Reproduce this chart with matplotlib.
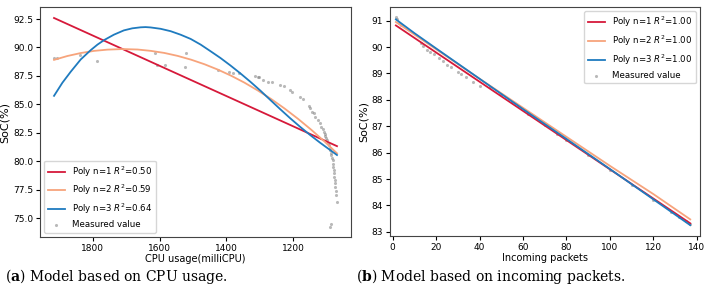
import matplotlib
matplotlib.use("Agg")
import matplotlib.pyplot as plt

# --- (a) CPU usage: measured points ---
cpu_x = [1916, 1907, 1839, 1788, 1615, 1609, 1585, 1525, 1522, 1425, 1391, 1381,
         1363, 1313, 1306, 1303, 1289, 1274, 1264, 1241, 1229, 1211, 1204, 1181,
         1172, 1154, 1149, 1144, 1139, 1134, 1126, 1121, 1116, 1112, 1109, 1106,
         1104, 1101, 1099, 1096, 1094, 1091, 1089, 1087, 1086, 1084, 1082, 1081,
         1080, 1079, 1078, 1077, 1076, 1075, 1074, 1073, 1072, 1070, 1089, 1086]
cpu_soc = [89.04, 89.10, 89.33, 88.80, 89.48, 88.50, 88.50, 88.30, 89.48, 88.00, 87.86, 87.80,
           87.72, 87.49, 87.37, 87.37, 87.14, 86.99, 86.93, 86.70, 86.60, 86.26, 86.10, 85.67,
           85.44, 84.85, 84.65, 84.35, 84.20, 83.90, 83.62, 83.33, 83.03, 82.80, 82.59, 82.40,
           82.20, 82.03, 81.86, 81.64, 81.42, 81.20, 80.98, 80.76, 80.54, 80.32, 80.10, 79.80,
           79.50, 79.20, 78.93, 78.64, 78.34, 78.05, 77.75, 77.38, 77.02, 76.43, 74.23, 74.47]

# fitted curves
fit1_x = [1916, 1069]
fit1_y = [92.59, 81.33]
fit2_x = [1916, 1876, 1836, 1796, 1756, 1710, 1666, 1626, 1586, 1546, 1506, 1466, 1426,
          1386, 1346, 1306, 1266, 1226, 1186, 1146, 1106, 1069]
fit2_y = [88.91, 89.25, 89.51, 89.70, 89.81, 89.86, 89.82, 89.70, 89.52, 89.26, 88.93, 88.53, 88.06,
          87.52, 86.91, 86.22, 85.47, 84.64, 83.74, 82.77, 81.73, 80.70]
fit3_x = [1916, 1891, 1866, 1836, 1806, 1786, 1766, 1737, 1707, 1682, 1657, 1642, 1627, 1597,
          1567, 1537, 1507, 1477, 1448, 1418, 1388, 1358, 1328, 1298, 1269, 1239, 1209, 1179,
          1149, 1119, 1089, 1069]
fit3_y = [85.75, 86.90, 87.87, 88.95, 89.77, 90.25, 90.65, 91.12, 91.50, 91.68, 91.77, 91.79, 91.76, 91.64,
          91.43, 91.12, 90.75, 90.25, 89.68, 89.08, 88.42, 87.72, 86.98, 86.20, 85.40, 84.58, 83.78, 83.02,
          82.30, 81.62, 80.98, 80.55]
r2_cpu = ["0.50", "0.59", "0.64"]

# --- (b) incoming packets ---
pkt_x = [1.5, 2.2, 3.0, 4.0, 13, 14, 16, 17, 19, 21.5, 23, 25, 27, 30, 31.5, 34, 37, 40,
         45, 50, 55, 62.5, 70, 75.5, 80, 90, 100, 110, 120, 128, 132, 135, 137]
pkt_soc = [91.13, 91.05, 90.92, 90.84, 90.15, 90.05, 89.90, 89.83, 89.74, 89.58, 89.47, 89.33,
           89.23, 89.07, 88.98, 88.85, 88.67, 88.52, 88.50, 88.22, 87.93, 87.45, 87.05, 86.72,
           86.48, 85.92, 85.35, 84.78, 84.20, 83.75, 83.55, 83.40, 83.30]
pfit1_x = [1.5, 137]
pfit1_y = [90.82, 83.32]
pfit2_x = [1.5, 20, 40, 60, 80, 100, 120, 137]
pfit2_y = [90.95, 89.92, 88.80, 87.70, 86.60, 85.50, 84.43, 83.47]
pfit3_x = [1.5, 10, 20, 40, 60, 80, 100, 120, 137]
pfit3_y = [91.05, 90.53, 89.95, 88.80, 87.65, 86.52, 85.38, 84.23, 83.25]
r2_pkt = ["1.00", "1.00", "1.00"]

colors = ["#d6193a", "#f7a47c", "#1f7bbf"]

plt.rcParams["font.size"] = 6.5
fig = plt.figure(figsize=(7.13, 2.99), dpi=100)
ax1 = fig.add_axes([0.0561, 0.2074, 0.4362, 0.769])
ax2 = fig.add_axes([0.547, 0.2107, 0.4348, 0.766])

fits_a = [(fit1_x, fit1_y), (fit2_x, fit2_y), (fit3_x, fit3_y)]
for i, (fx, fy) in enumerate(fits_a):
    ax1.plot(fx, fy, color=colors[i], lw=1.3, label=f"Poly n={i+1} $R^2$={r2_cpu[i]}")
ax1.scatter(cpu_x, cpu_soc, s=5, color="gray", alpha=0.55, lw=0, label="Measured value")
ax1.set_xlim(1958, 1027)
ax1.set_ylim(73.35, 93.55)
ax1.set_yticks([75.0, 77.5, 80.0, 82.5, 85.0, 87.5, 90.0, 92.5])
ax1.set_xticks([1800, 1600, 1400, 1200])
ax1.set_xlabel("CPU usage(milliCPU)", fontsize=7, labelpad=1)
ax1.set_ylabel("SoC(%)", fontsize=8, labelpad=2)
ax1.legend(loc="lower left", fontsize=6.2)

fits_b = [(pfit1_x, pfit1_y), (pfit2_x, pfit2_y), (pfit3_x, pfit3_y)]
for i, (fx, fy) in enumerate(fits_b):
    ax2.plot(fx, fy, color=colors[i], lw=1.3, label=f"Poly n={i+1} $R^2$={r2_pkt[i]}")
ax2.scatter(pkt_x, pkt_soc, s=5, color="gray", alpha=0.55, lw=0, label="Measured value")
ax2.set_xlim(-1.2, 141.5)
ax2.set_ylim(82.84, 91.52)
ax2.set_xticks(range(0, 141, 20))
ax2.set_yticks(range(83, 92))
ax2.set_xlabel("Incoming packets", fontsize=7, labelpad=1)
ax2.set_ylabel("SoC(%)", fontsize=8, labelpad=2)
ax2.legend(loc="upper right", fontsize=6.2)

for ax in (ax1, ax2):
    for s in ax.spines.values():
        s.set_color("#444444")
    ax.tick_params(length=3, pad=2)

cap = dict(fontsize=10, family="DejaVu Serif", math_fontfamily="dejavuserif", va="center")
fig.text(0.007, 0.075, r"($\mathbf{a}$) Model based on CPU usage.", **cap)
fig.text(0.499, 0.075, r"($\mathbf{b}$) Model based on incoming packets.", **cap)

fig.savefig("out.png", dpi=100)
